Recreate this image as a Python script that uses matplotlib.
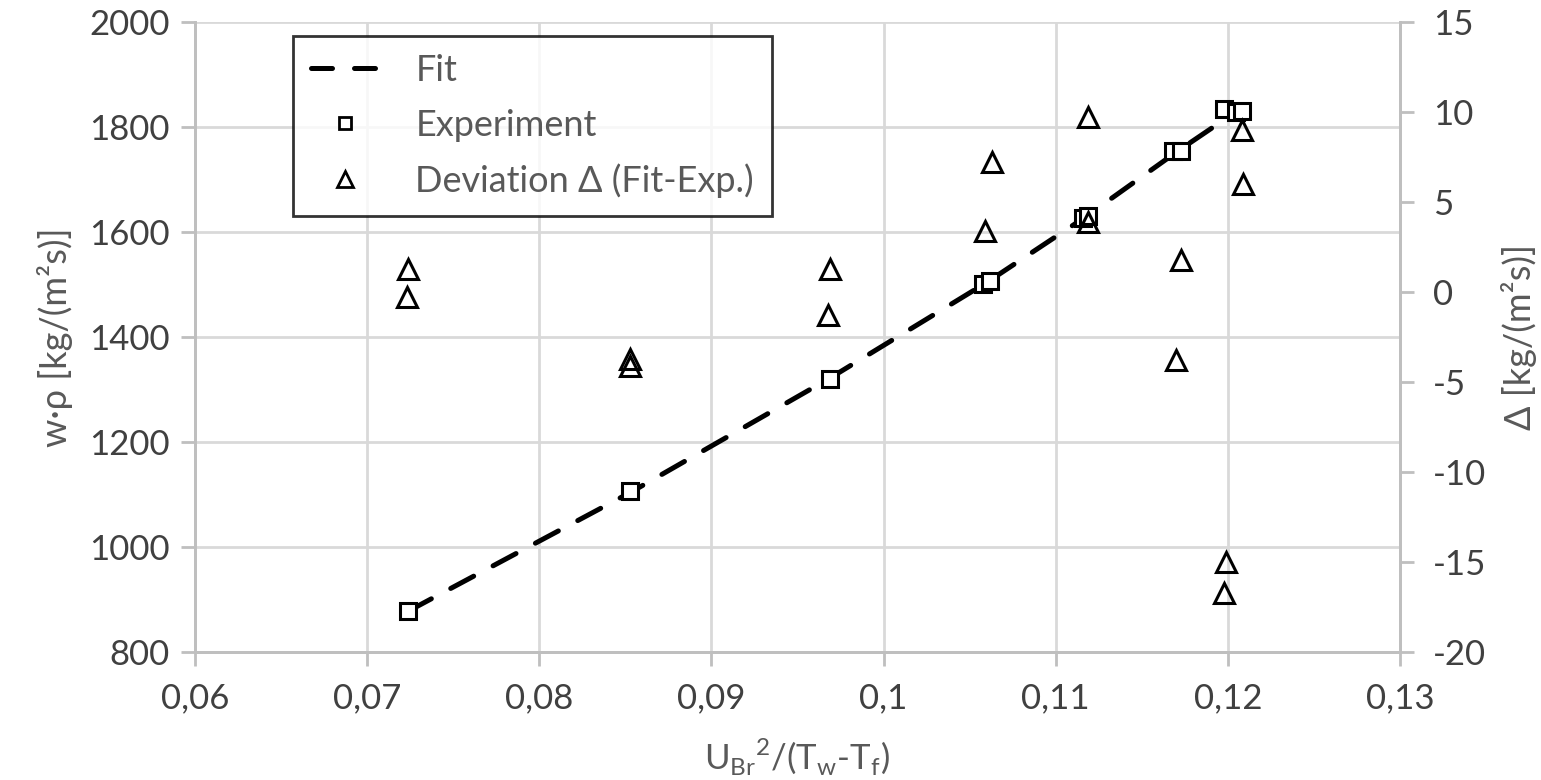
import matplotlib
matplotlib.use('Agg')
import matplotlib.pyplot as plt
from matplotlib.lines import Line2D

plt.rcParams['font.family'] = ['Lato', 'DejaVu Sans']
plt.rcParams['mathtext.fontset'] = 'custom'
plt.rcParams['mathtext.rm'] = 'Lato'
plt.rcParams['axes.unicode_minus'] = False

# measured mass flux density
exp_x = [0.0724, 0.0853, 0.0969, 0.1058, 0.1062, 0.1116, 0.1119, 0.1168, 0.1173, 0.1198, 0.1205, 0.1208]
exp_y = [878, 1106, 1320, 1501, 1507, 1627, 1630, 1754, 1754, 1834, 1828, 1830]

# fitted curve
fit_x = [0.0724, 0.0853, 0.0969, 0.1060, 0.1117, 0.1170, 0.1206]
fit_y = [878, 1104, 1322, 1504, 1628, 1752, 1832]

# deviation fit - experiment
dev_x = [0.0724, 0.0723, 0.0853, 0.0853, 0.0969, 0.0968, 0.1063, 0.1059, 0.1119, 0.1119,
         0.1173, 0.1170, 0.1208, 0.1209, 0.1199, 0.1198]
dev_y = [1.3, -0.3, -3.7, -4.1, 1.3, -1.3, 7.2, 3.4, 9.7, 3.9,
         1.8, -3.8, 9.0, 6.0, -15.0, -16.7]

grid_c = '#d9d9d9'
spine_c = '#bfbfbf'
text_c = '#595959'
tick_c = '#404040'

fig = plt.figure(figsize=(15.41, 7.80), dpi=100)
ax = fig.add_axes([0.1265, 0.1641, 0.7820, 0.8077])
ax2 = ax.twinx()

ax.plot(fit_x, fit_y, color='black', lw=3.6, dashes=(5.2, 4.4), dash_capstyle='round', zorder=3)
ax.plot(exp_x, exp_y, ls='none', marker='s', ms=11.5, mfc='white', mec='black', mew=2.2, zorder=4)
ax2.plot(dev_x, dev_y, ls='none', marker='^', ms=15, mfc='none', mec='black', mew=2.2, zorder=4)

ax.set_xlim(0.06, 0.13)
ax.set_ylim(800, 2000)
ax2.set_ylim(-20, 15)
ax.set_xticks([0.06, 0.07, 0.08, 0.09, 0.1, 0.11, 0.12, 0.13])
ax.set_xticklabels(['0,06', '0,07', '0,08', '0,09', '0,1', '0,11', '0,12', '0,13'])
ax.set_yticks(range(800, 2001, 200))
ax2.set_yticks(range(-20, 16, 5))

ax.grid(True, color=grid_c, lw=2)
ax.set_axisbelow(True)
for a in (ax, ax2):
    a.spines['top'].set_visible(False)
    for s in ('left', 'right', 'bottom'):
        a.spines[s].set_color(spine_c)
        a.spines[s].set_linewidth(2)
    a.tick_params(colors=spine_c, labelcolor=tick_c, labelsize=25, width=2, length=10)
ax.tick_params(axis='x', pad=12)
ax.tick_params(axis='y', pad=8)
ax2.tick_params(axis='y', pad=14)

ax.set_xlabel(r'U$_{\mathrm{Br}}{}^{2}$/(T$_{\mathrm{w}}$-T$_{\mathrm{f}}$)', fontsize=25, color=text_c, labelpad=16)
ax.set_ylabel('w·ρ [kg/(m²s)]', fontsize=26, color=text_c, labelpad=12)
ax2.set_ylabel('Δ [kg/(m²s)]', fontsize=26, color=text_c, labelpad=10)

handles = [
    Line2D([], [], color='black', lw=3.6, dashes=(4.2, 4.4), dash_capstyle='round'),
    Line2D([], [], ls='none', marker='s', ms=9, mfc='white', mec='black', mew=2),
    Line2D([], [], ls='none', marker='^', ms=12, mfc='none', mec='black', mew=2),
]
leg = ax2.legend(handles, ['Fit', 'Experiment', 'Deviation Δ (Fit-Exp.)'],
                 loc='upper left', bbox_to_anchor=(0.081, 0.978), borderaxespad=0,
                 fontsize=26, labelcolor=text_c, frameon=True, fancybox=False,
                 edgecolor='black', handlelength=1.9, handletextpad=1.0,
                 labelspacing=0.6, borderpad=0.5)
leg.get_frame().set_linewidth(2)
leg.set_zorder(10)

fig.savefig('out.png', dpi=100)
